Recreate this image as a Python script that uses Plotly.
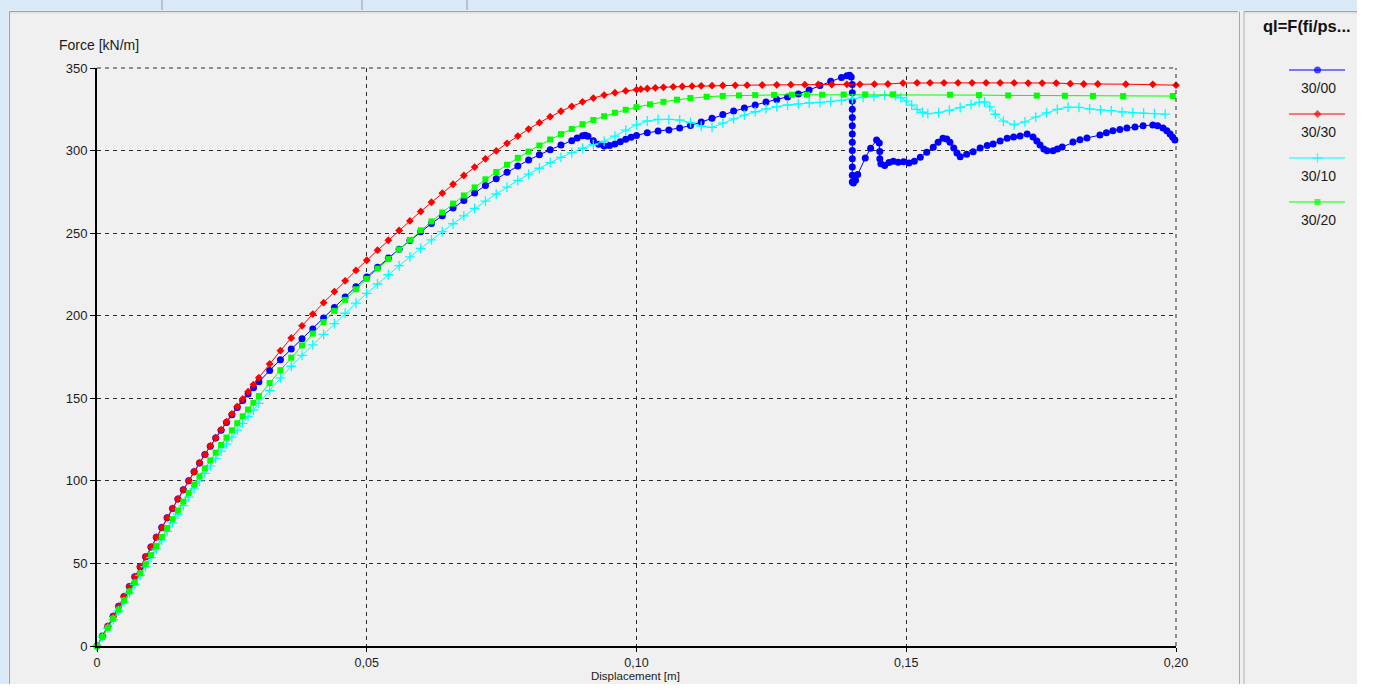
import plotly.graph_objects as go

# ---------------------------------------------------------------
# Load–displacement curves, ql = F(fi/psi), pairs of (displacement [m], force [kN/m])
# ---------------------------------------------------------------
curve_30_00 = [
    (0, 0), (0.001, 6.0), (0.002, 12.0), (0.003, 18.0), (0.004, 24.0), (0.005, 30.0),
    (0.006, 36.0), (0.007, 42.0), (0.008, 48.0), (0.009, 54.0), (0.010, 60.0),
    (0.011, 65.9), (0.012, 71.8), (0.013, 77.6), (0.014, 83.3), (0.015, 89.0),
    (0.016, 94.6), (0.017, 100.1), (0.018, 105.5), (0.019, 110.8), (0.020, 116.0),
    (0.021, 121.0), (0.022, 125.9), (0.023, 130.7), (0.024, 135.4), (0.025, 140.0),
    (0.026, 144.4), (0.027, 148.6), (0.028, 152.6), (0.029, 156.4), (0.030, 160.0),
    (0.032, 166.8), (0.034, 173.4), (0.036, 179.8), (0.038, 186.0), (0.040, 192.0),
    (0.042, 198.6), (0.044, 205.0), (0.046, 211.3), (0.048, 217.5), (0.050, 223.5),
    (0.052, 229.3), (0.054, 234.9), (0.056, 240.3), (0.058, 245.6), (0.060, 250.8),
    (0.062, 255.8), (0.064, 260.6), (0.066, 265.3), (0.068, 269.8), (0.070, 274.3),
    (0.072, 278.8), (0.074, 282.9), (0.076, 286.8), (0.078, 290.6), (0.080, 294.3),
    (0.082, 297.5), (0.084, 300.5), (0.086, 303.3), (0.088, 306.0), (0.089, 307.6),
    (0.090, 308.9), (0.0905, 309.3), (0.091, 308.6), (0.092, 306.0), (0.093, 303.8),
    (0.094, 302.8), (0.095, 303.1), (0.096, 304.0), (0.097, 305.3), (0.098, 306.8),
    (0.099, 308.0), (0.100, 309.2), (0.102, 310.8), (0.104, 311.8), (0.106, 312.5),
    (0.108, 313.6), (0.110, 315.2), (0.112, 317.3), (0.114, 319.6), (0.116, 321.8),
    (0.118, 323.9), (0.120, 325.8), (0.122, 327.6), (0.124, 329.4), (0.126, 331.0),
    (0.128, 332.5), (0.130, 334.3), (0.132, 336.7), (0.134, 339.4), (0.136, 342.0),
    (0.138, 344.3), (0.139, 345.3), (0.1395, 345.6), (0.1398, 344.5),
    (0.1400, 340.0), (0.1400, 335.0), (0.1400, 330.0), (0.1400, 325.0), (0.1400, 320.0),
    (0.1400, 315.0), (0.1400, 310.0), (0.1400, 305.0), (0.1400, 300.0), (0.1400, 295.0),
    (0.1400, 290.0), (0.1400, 285.0), (0.1400, 281.0), (0.1402, 280.4), (0.1406, 282.0),
    (0.1410, 285.5), (0.1424, 295.5), (0.1434, 301.4), (0.1445, 306.4), (0.1450, 304.6),
    (0.1451, 299.5), (0.1451, 295.0), (0.1453, 292.0), (0.1460, 291.0), (0.1468, 292.8),
    (0.1476, 293.5), (0.1485, 293.0), (0.1495, 293.3), (0.1505, 292.4), (0.1515, 293.5),
    (0.1526, 296.0), (0.1538, 299.0), (0.1550, 302.0), (0.1559, 305.0), (0.1568, 307.5),
    (0.1575, 307.0), (0.1581, 305.0), (0.1588, 301.5), (0.1594, 298.5), (0.1600, 296.3),
    (0.1612, 297.8), (0.1624, 299.3), (0.1637, 301.5), (0.1650, 303.0), (0.1661, 304.0),
    (0.1674, 305.8), (0.1687, 307.5), (0.1699, 308.2), (0.1711, 308.8), (0.1724, 310.0),
    (0.1735, 308.2), (0.1742, 305.8), (0.1748, 303.4), (0.1755, 301.0), (0.1761, 299.9),
    (0.1772, 299.9), (0.1780, 301.0), (0.1789, 302.2), (0.1809, 305.2), (0.1822, 306.5),
    (0.1835, 307.6), (0.1859, 309.4), (0.1871, 310.8), (0.1883, 312.0), (0.1896, 312.8),
    (0.1909, 313.7), (0.1924, 314.3), (0.1939, 315.0), (0.1957, 315.5), (0.1966, 315.0),
    (0.1976, 313.7), (0.1983, 312.0), (0.1989, 310.0), (0.1994, 308.0), (0.1998, 306.4),
]

curve_30_30 = [
    (0, 0), (0.001, 6.0), (0.002, 12.0), (0.003, 18.0), (0.004, 24.0), (0.005, 30.0),
    (0.006, 36.0), (0.007, 42.0), (0.008, 48.0), (0.009, 54.0), (0.010, 60.0),
    (0.011, 65.9), (0.012, 71.8), (0.013, 77.6), (0.014, 83.3), (0.015, 89.0),
    (0.016, 94.6), (0.017, 100.1), (0.018, 105.5), (0.019, 110.8), (0.020, 116.0),
    (0.021, 121.1), (0.022, 126.1), (0.023, 131.0), (0.024, 135.8), (0.025, 140.5),
    (0.026, 145.1), (0.027, 149.6), (0.028, 154.0), (0.029, 158.3), (0.030, 162.5),
    (0.032, 170.8), (0.034, 178.8), (0.036, 186.5), (0.038, 193.9), (0.040, 201.0),
    (0.042, 207.9), (0.044, 214.6), (0.046, 221.1), (0.048, 227.4), (0.050, 233.6),
    (0.052, 239.7), (0.054, 245.7), (0.056, 251.6), (0.058, 257.4), (0.060, 263.1),
    (0.062, 268.7), (0.064, 274.2), (0.066, 279.6), (0.068, 284.9), (0.070, 290.0),
    (0.072, 295.0), (0.074, 299.8), (0.076, 304.4), (0.078, 308.8), (0.080, 313.0),
    (0.082, 316.9), (0.084, 320.5), (0.086, 323.8), (0.088, 326.8), (0.090, 329.5),
    (0.092, 331.8), (0.094, 333.6), (0.096, 335.0), (0.098, 336.1), (0.100, 336.9),
    (0.1008, 337.2), (0.102, 337.6), (0.1035, 338.0), (0.105, 338.3), (0.1068, 338.6),
    (0.1085, 338.8), (0.1103, 339.0), (0.112, 339.2), (0.114, 339.3), (0.116, 339.4),
    (0.1183, 339.5), (0.1205, 339.6), (0.1233, 339.7), (0.126, 339.8), (0.1286, 339.9),
    (0.1312, 339.9), (0.1337, 340.0), (0.1362, 340.0), (0.139, 340.1), (0.1414, 340.1),
    (0.1441, 340.2), (0.1466, 340.3), (0.1494, 340.9), (0.152, 341.0), (0.1544, 341.0),
    (0.157, 341.0), (0.1596, 341.0), (0.1622, 341.0), (0.1648, 341.0), (0.1674, 341.0),
    (0.170, 341.0), (0.1726, 340.9), (0.1752, 340.9), (0.1778, 340.9), (0.1804, 340.5),
    (0.1829, 340.3), (0.1855, 340.3), (0.1907, 340.2), (0.1957, 340.1), (0.200, 339.6),
]

curve_30_10 = [
    (0, 0), (0.001, 5.35), (0.002, 10.7), (0.003, 16.0), (0.004, 21.4), (0.005, 26.7),
    (0.006, 32.1), (0.007, 37.4), (0.008, 42.8), (0.009, 48.1), (0.010, 53.5),
    (0.011, 58.8), (0.012, 64.1), (0.013, 69.4), (0.014, 74.6), (0.015, 79.8),
    (0.016, 85.0), (0.017, 90.1), (0.018, 95.1), (0.019, 99.8), (0.020, 104.5),
    (0.021, 109.1), (0.022, 113.6), (0.023, 118.0), (0.024, 122.3), (0.025, 126.5),
    (0.026, 130.7), (0.027, 134.8), (0.028, 138.9), (0.029, 142.9), (0.030, 146.9),
    (0.032, 154.7), (0.034, 162.3), (0.036, 169.4), (0.038, 176.0), (0.040, 182.4),
    (0.042, 188.7), (0.044, 195.2), (0.046, 201.5), (0.048, 207.6), (0.050, 213.5),
    (0.052, 219.2), (0.054, 224.8), (0.056, 230.3), (0.058, 235.6), (0.060, 240.8),
    (0.062, 245.9), (0.064, 250.9), (0.066, 255.7), (0.068, 260.4), (0.070, 265.0),
    (0.072, 269.4), (0.074, 273.7), (0.076, 277.9), (0.078, 281.9), (0.080, 285.7),
    (0.082, 289.3), (0.084, 292.7), (0.086, 295.9), (0.088, 298.8), (0.090, 301.4),
    (0.092, 303.6), (0.094, 305.6), (0.096, 308.8), (0.098, 312.4), (0.100, 315.6),
    (0.102, 317.9), (0.104, 318.8), (0.106, 318.9), (0.108, 318.5), (0.110, 317.0),
    (0.112, 314.8), (0.114, 314.0), (0.116, 316.6), (0.118, 319.2), (0.120, 321.5),
    (0.122, 323.5), (0.124, 325.2), (0.126, 326.6), (0.128, 327.6), (0.130, 328.3),
    (0.132, 328.8), (0.134, 329.2), (0.136, 329.7), (0.138, 330.4), (0.140, 331.4),
    (0.142, 332.3), (0.144, 332.9), (0.146, 333.4), (0.148, 333.3), (0.149, 332.0),
    (0.150, 330.0), (0.151, 327.5), (0.152, 325.0), (0.153, 323.2), (0.154, 322.4),
    (0.156, 323.0), (0.158, 324.4), (0.160, 326.0), (0.162, 327.8), (0.1635, 329.2),
    (0.1645, 329.4), (0.1655, 326.5), (0.1665, 322.0), (0.168, 317.8), (0.170, 315.6),
    (0.172, 317.4), (0.174, 320.3), (0.176, 322.8), (0.178, 324.9), (0.180, 326.3),
    (0.182, 326.2), (0.184, 325.2), (0.186, 324.7), (0.188, 324.2), (0.190, 323.3),
    (0.192, 322.9), (0.194, 322.6), (0.196, 322.4), (0.198, 322.1),
]

curve_30_20 = [
    (0, 0), (0.001, 5.5), (0.002, 11.0), (0.003, 16.5), (0.004, 22.0), (0.005, 27.5),
    (0.006, 33.0), (0.007, 38.5), (0.008, 44.0), (0.009, 49.5), (0.010, 55.0),
    (0.011, 60.5), (0.012, 66.0), (0.013, 71.4), (0.014, 76.8), (0.015, 82.1),
    (0.016, 87.4), (0.017, 92.6), (0.018, 97.7), (0.019, 102.7), (0.020, 107.6),
    (0.021, 112.4), (0.022, 117.1), (0.023, 121.7), (0.024, 126.2), (0.025, 130.6),
    (0.026, 134.9), (0.027, 139.1), (0.028, 143.2), (0.029, 147.3), (0.030, 151.3),
    (0.032, 159.2), (0.034, 167.0), (0.036, 174.6), (0.038, 182.0), (0.040, 189.2),
    (0.042, 196.2), (0.044, 203.0), (0.046, 209.6), (0.048, 216.0), (0.050, 222.3),
    (0.052, 228.5), (0.054, 234.3), (0.056, 240.1), (0.058, 245.9), (0.060, 251.7),
    (0.062, 257.1), (0.064, 262.5), (0.066, 267.9), (0.068, 272.8), (0.070, 277.7),
    (0.072, 282.6), (0.074, 287.0), (0.076, 291.4), (0.078, 295.6), (0.080, 299.4),
    (0.082, 303.1), (0.084, 306.7), (0.086, 310.0), (0.088, 313.1), (0.090, 316.0),
    (0.092, 318.5), (0.094, 320.8), (0.096, 322.9), (0.098, 324.7), (0.100, 326.3),
    (0.1025, 328.0), (0.105, 329.5), (0.1075, 330.8), (0.110, 331.8), (0.113, 332.6),
    (0.116, 333.1), (0.119, 333.4), (0.122, 333.6), (0.1255, 333.7), (0.1288, 333.8),
    (0.1316, 333.8), (0.1344, 333.8), (0.1384, 333.9), (0.1424, 334.0), (0.1475, 334.0),
    (0.1581, 333.8), (0.1635, 333.6), (0.1689, 333.4), (0.1742, 333.3), (0.1794, 333.2),
    (0.1846, 333.1), (0.1902, 333.0), (0.1994, 333.0),
]

series_names = ["30/00", "30/30", "30/10", "30/20"]
series_colors = ["#0000FF", "#FF0000", "#00FFFF", "#00FF00"]
series_symbols = ["circle", "diamond", "cross-thin", "square"]
series_sizes = [7, 6, 7, 6]
curves = [curve_30_00, curve_30_30, curve_30_10, curve_30_20]

x_tick_values = [0, 0.05, 0.10, 0.15, 0.20]
x_tick_labels = ["0", "0,05", "0,10", "0,15", "0,20"]
y_tick_values = [0, 50, 100, 150, 200, 250, 300, 350]
y_tick_labels = ["0", "50", "100", "150", "200", "250", "300", "350"]

# ---------------------------------------------------------------
# Geometry in pixels; the figure keeps clear of the page's scroll area
# ---------------------------------------------------------------
W, H = 1357, 684
PLOT_L, PLOT_R, PLOT_T, PLOT_B = 97, 1176, 68, 646
LEG_L = 1246

def px(x):
    return x / W

def py(y):
    return 1 - y / H

FONT = "Liberation Sans, Arial, sans-serif"
TEXT = "#1c1c1c"
PANEL = "#F0F0F0"
CHROME = "#DAE9F8"

fig = go.Figure()

for name, color, symbol, size, curve in zip(series_names, series_colors, series_symbols,
                                            series_sizes, curves):
    xs = [p[0] for p in curve]
    ys = [p[1] for p in curve]
    fig.add_trace(go.Scatter(
        x=xs, y=ys, mode="lines+markers", name=name,
        line=dict(color=color, width=1),
        marker=dict(symbol=symbol, size=size, color=color,
                    line=dict(color=color, width=1.3 if symbol == "cross-thin" else 0)),
        cliponaxis=False, showlegend=False, xaxis="x", yaxis="y",
    ))

# Legend keys (line sample with a centred marker) on an auxiliary pixel axis
legend_rows = [70, 114, 158, 202]
for name, color, symbol, size, row in zip(series_names, series_colors, series_symbols,
                                          series_sizes, legend_rows):
    fig.add_trace(go.Scatter(
        x=[1289, 1317.5, 1345], y=[row, row, row], mode="lines+markers",
        line=dict(color=color, width=1),
        marker=dict(symbol=symbol, size=[0, size, 0], color=color,
                    line=dict(color=color, width=1.3 if symbol == "cross-thin" else 0)),
        showlegend=False, xaxis="x2", yaxis="y2", hoverinfo="skip",
    ))

axis_common = dict(
    showline=True, linecolor="black", linewidth=2,
    ticks="outside", tickwidth=1, tickcolor="black",
    showgrid=True, gridcolor="#2a2a2a", gridwidth=1, griddash="4px,4px",
    zeroline=False, fixedrange=True, automargin=False,
)

fig.update_layout(
    width=W, height=H,
    margin=dict(l=0, r=0, t=0, b=0),
    paper_bgcolor=PANEL, plot_bgcolor=PANEL,
    showlegend=False,
    xaxis=dict(domain=[px(PLOT_L), px(PLOT_R)], range=[0, 0.2], anchor="y",
               tickvals=x_tick_values, ticktext=x_tick_labels, ticklen=4,
               tickfont=dict(family=FONT, size=12.5, color=TEXT), **axis_common),
    yaxis=dict(domain=[py(PLOT_B), py(PLOT_T)], range=[0, 350], anchor="x",
               tickvals=y_tick_values, ticktext=y_tick_labels, ticklen=5,
               tickfont=dict(family=FONT, size=13, color=TEXT), **axis_common),
    xaxis2=dict(domain=[px(LEG_L), 1], range=[LEG_L, W], visible=False,
                anchor="y2", fixedrange=True),
    yaxis2=dict(domain=[0, 1], range=[H, 0], visible=False, anchor="x2",
                fixedrange=True),
)

# Dashed frame on top and right of the plotting area
dash_line = dict(color="#2a2a2a", width=1, dash="4px,4px")
fig.add_shape(type="line", xref="paper", yref="paper",
              x0=px(PLOT_L), x1=px(PLOT_R), y0=py(PLOT_T), y1=py(PLOT_T), line=dash_line)
fig.add_shape(type="line", xref="paper", yref="paper",
              x0=px(PLOT_R), x1=px(PLOT_R), y0=py(PLOT_B), y1=py(PLOT_T), line=dash_line)

# Window chrome: light strips along top and left, panel borders, separators
chrome_rects = [(0, 0, W, 10.5), (0, 0, 8.5, H)]
for x0, y0, x1, y1 in chrome_rects:
    fig.add_shape(type="rect", xref="paper", yref="paper",
                  x0=px(x0), x1=px(x1), y0=py(y0), y1=py(y1),
                  fillcolor=CHROME, line_width=0, layer="below")

border_lines = [
    (9.5, 11.5, 1238, 11.5, "#A0A0A0"),
    (9.5, 13, 1238, 13, "#D8D8D8"),
    (1244, 11.5, W, 11.5, "#A0A0A0"),
    (1244, 13, W, 13, "#D8D8D8"),
    (9.5, 11.5, 9.5, H, "#A0A0A0"),
    (1239.5, 11.5, 1239.5, H, "#A8A8A8"),
    (1244, 11.5, 1244, H, "#B0B0B0"),
    (162, 0, 162, 10, "#9A9A9A"),
    (362, 0, 362, 10, "#9A9A9A"),
    (467, 0, 467, 10, "#9A9A9A"),
]
for x0, y0, x1, y1, c in border_lines:
    fig.add_shape(type="line", xref="paper", yref="paper",
                  x0=px(x0), x1=px(x1), y0=py(y0), y1=py(y1),
                  line=dict(color=c, width=1))

# Axis titles
fig.add_annotation(text="Force [kN/m]", xref="paper", yref="paper",
                   x=px(57), y=py(45), xanchor="left", yanchor="middle",
                   showarrow=False, font=dict(family=FONT, size=14, color=TEXT))
fig.add_annotation(text="Displacement [m]", xref="paper", yref="paper",
                   x=px(635), y=py(675.5), xanchor="center", yanchor="middle",
                   showarrow=False, borderpad=0,
                   font=dict(family=FONT, size=11.5, color=TEXT))

# Legend panel title and labels
fig.add_annotation(text="ql=F(fi/ps...", xref="paper", yref="paper",
                   x=px(1261), y=py(26), xanchor="left", yanchor="middle",
                   showarrow=False,
                   font=dict(family=FONT, size=16.5, color="#111111", weight="bold"))
for name, row in zip(series_names, legend_rows):
    fig.add_annotation(text=name, xref="paper", yref="paper",
                       x=px(1318), y=py(row + 18), xanchor="center", yanchor="middle",
                       showarrow=False, font=dict(family=FONT, size=14, color=TEXT))

fig.write_html("out.html")
